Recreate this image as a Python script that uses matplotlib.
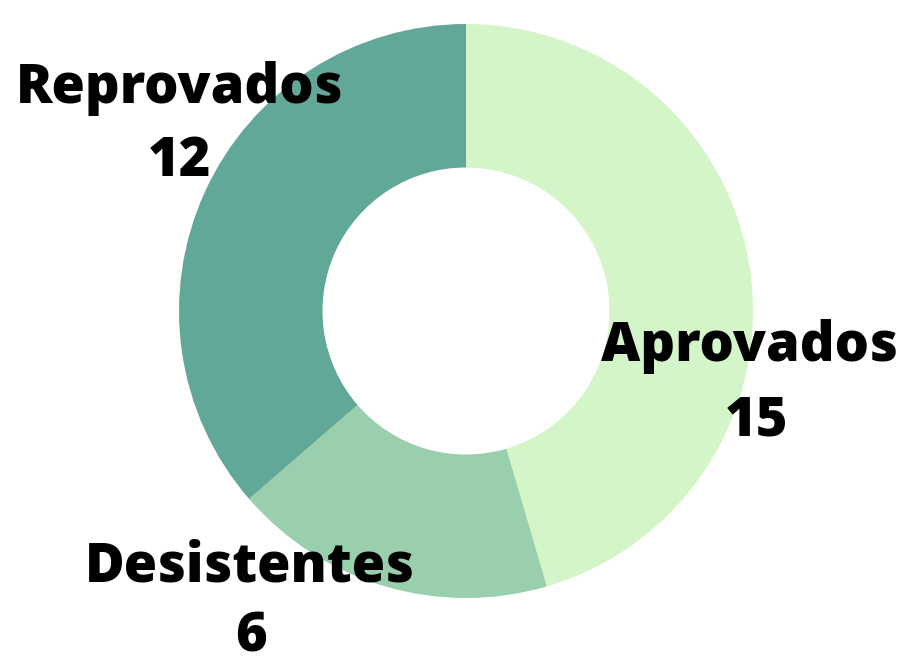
import matplotlib.pyplot as plt

labels = ["Aprovados", "Desistentes", "Reprovados"]
values = [15, 6, 12]
colors = ["#d4f5c8", "#9acfae", "#62a899"]

fig = plt.figure(figsize=(9.05, 6.56), dpi=100)
# donut centre ~ (466, 311) px, outer radius ~287 px
ax = fig.add_axes([(466 - 287) / 905, (656 - 311 - 287) / 656, 574 / 905, 574 / 656])

ax.pie(values, colors=colors, startangle=90, counterclock=False,
       radius=1, wedgeprops=dict(width=0.5, linewidth=0))
ax.set_xlim(-1, 1)
ax.set_ylim(-1, 1)
ax.set_aspect("equal")
ax.axis("off")

font = dict(family=["Open Sans", "DejaVu Sans"], weight=800, fontsize=39,
            ha="center", va="baseline", color="black")

# label positions in pixels (x, baseline y from top)
pos = {"Aprovados": (749, 361, 757, 436),
       "Desistentes": (250, 582, 251, 651),
       "Reprovados": (180, 103, 180, 176)}

for lab, val in zip(labels, values):
    x1, y1, x2, y2 = pos[lab]
    fig.text(x1 / 905, 1 - y1 / 656, lab, **font)
    fig.text(x2 / 905, 1 - y2 / 656, str(val), **font)

fig.savefig("out.png", dpi=100)
